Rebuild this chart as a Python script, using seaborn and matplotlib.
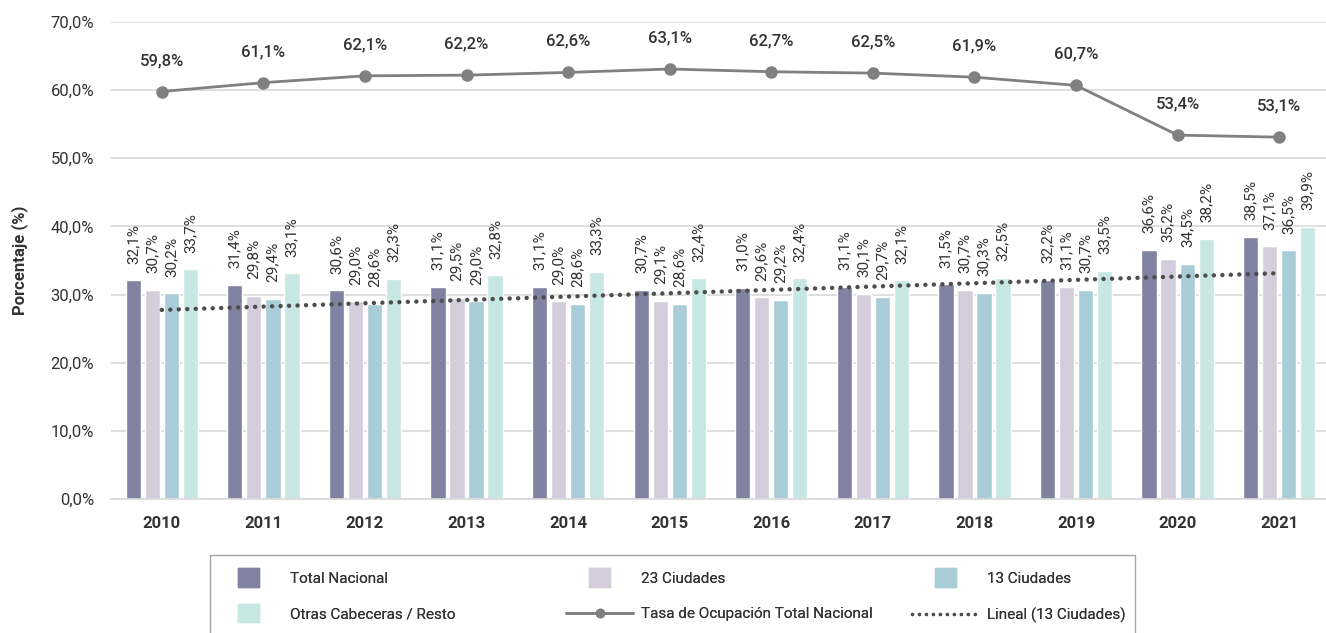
import numpy as np
import pandas as pd
import matplotlib
matplotlib.use("Agg")
import matplotlib.pyplot as plt
from matplotlib.patches import Patch, Rectangle
from matplotlib.lines import Line2D
from matplotlib.legend_handler import HandlerPatch
from matplotlib.ticker import FuncFormatter, MultipleLocator
import seaborn as sns

# datos
anios = ['2010', '2011', '2012', '2013', '2014', '2015', '2016', '2017', '2018', '2019', '2020', '2021']
total_nacional = [32.1, 31.4, 30.6, 31.1, 31.1, 30.7, 31.0, 31.1, 31.5, 32.2, 36.6, 38.5]
ciudades_23 = [30.7, 29.8, 29.0, 29.5, 29.0, 29.1, 29.6, 30.1, 30.7, 31.1, 35.2, 37.1]
ciudades_13 = [30.2, 29.4, 28.6, 29.0, 28.6, 28.6, 29.2, 29.7, 30.3, 30.7, 34.5, 36.5]
otras = [33.7, 33.1, 32.3, 32.8, 33.3, 32.4, 32.4, 32.1, 32.5, 33.5, 38.2, 39.9]
tasa_ocupacion = [59.8, 61.1, 62.1, 62.2, 62.6, 63.1, 62.7, 62.5, 61.9, 60.7, 53.4, 53.1]

series = ['Total Nacional', '23 Ciudades', '13 Ciudades', 'Otras Cabeceras / Resto']
colores = ['#7F82A1', '#D4CEDC', '#A8CDD8', '#C7E7E4']

df = pd.DataFrame({
    'Año': anios * 4,
    'Serie': np.repeat(series, len(anios)),
    'Valor': total_nacional + ciudades_23 + ciudades_13 + otras,
})

sns.set_theme(style='white')
plt.rcParams['font.family'] = ['Roboto', 'DejaVu Sans']
plt.rcParams['text.color'] = '#333333'

fig = plt.figure(figsize=(13.26, 6.33), dpi=100)
ax = fig.add_axes([111 / 1326, 134 / 633, 1219 / 1326, 477 / 633])

sns.barplot(data=df, x='Año', y='Valor', hue='Serie', hue_order=series,
            palette=colores, width=0.75, gap=0.2, ax=ax, legend=False,
            saturation=1, errorbar=None)

# etiquetas de barras
for cont in ax.containers:
    for rect in cont:
        h = rect.get_height()
        ax.annotate(f"{h:.1f}%".replace('.', ','),
                    (rect.get_x() + rect.get_width() / 2, h),
                    xytext=(0, 12), textcoords='offset points',
                    rotation=90, ha='center', va='bottom', fontsize=11, color='#333333')

x = np.arange(len(anios))
sns.lineplot(x=x, y=tasa_ocupacion, ax=ax, color='#808082', linewidth=2,
             marker='o', markersize=9, markeredgewidth=0)
for xi, v in zip(x, tasa_ocupacion):
    ax.annotate(f"{v:.1f}%".replace('.', ','), (xi, v), xytext=(0, 17),
                textcoords='offset points', ha='center', va='bottom',
                fontsize=12, color='#333333', fontweight='medium')

# tendencia lineal 13 ciudades
sns.regplot(x=x, y=ciudades_13, ax=ax, scatter=False, ci=None, truncate=True,
            line_kws=dict(color='#4D4D4D', linewidth=3.2,
                          linestyle=(0, (0.01, 1.9)), dash_capstyle='round'))

ax.set_xlim(-0.5, 11.5)
ax.set_ylim(0, 70)
ax.yaxis.set_major_locator(MultipleLocator(10))
ax.yaxis.set_major_formatter(FuncFormatter(lambda v, p: f"{v:.1f}%".replace('.', ',')))
ax.grid(axis='y', color='#D9D9D9', linewidth=1.2)
ax.set_axisbelow(True)
for s in ['top', 'right', 'left']:
    ax.spines[s].set_visible(False)
ax.spines['bottom'].set_color('#D9D9D9')
ax.spines['bottom'].set_linewidth(1.2)
ax.tick_params(axis='both', length=0, labelsize=12, colors='#333333')
ax.tick_params(axis='x', pad=12)
ax.tick_params(axis='y', pad=12)
for lbl in ax.get_xticklabels():
    lbl.set_fontweight('bold')
ax.set_xlabel('')
ax.set_ylabel('Porcentaje (%)', fontsize=12, fontweight='bold', labelpad=16, color='#333333')


# leyenda: tres columnas con separación fija, marco común
def patch_estrecho(legend, orig_handle, xdescent, ydescent, width, height, fontsize):
    w = 15
    hh = height * 1.75
    return Rectangle((width / 2 - w / 2 - xdescent, height / 2 - hh / 2 - ydescent), w, hh)


columnas = [
    [Patch(color=colores[0], label=series[0]),
     Patch(color=colores[3], label=series[3])],
    [Patch(color=colores[1], label=series[1]),
     Line2D([], [], color='#808082', linewidth=2, marker='o', markersize=7,
            markeredgewidth=0, label='Tasa de Ocupación Total Nacional')],
    [Patch(color=colores[2], label=series[2]),
     Line2D([], [], color='#4D4D4D', linewidth=2.5, linestyle=(0, (0.01, 2)),
            dash_capstyle='round', label='Lineal (13 Ciudades)')],
]
x_cols = [215, 566, 912]
for hs, xc in zip(columnas, x_cols):
    leg = fig.legend(handles=hs, loc='upper left',
                     bbox_to_anchor=(xc / 1326, 1 - 572 / 633),
                     fontsize=11, frameon=False, handlelength=4.4,
                     handletextpad=0.5, labelspacing=1.4, borderpad=0,
                     borderaxespad=0,
                     handler_map={Patch: HandlerPatch(patch_func=patch_estrecho)})
    fig.add_artist(leg)

fig.add_artist(Rectangle((210 / 1326, -0.05), 925 / 1326, (633 - 555) / 633 + 0.05,
                         transform=fig.transFigure, fill=False,
                         edgecolor='#A6A6A6', linewidth=1))

fig.savefig('out.png', dpi=100)
